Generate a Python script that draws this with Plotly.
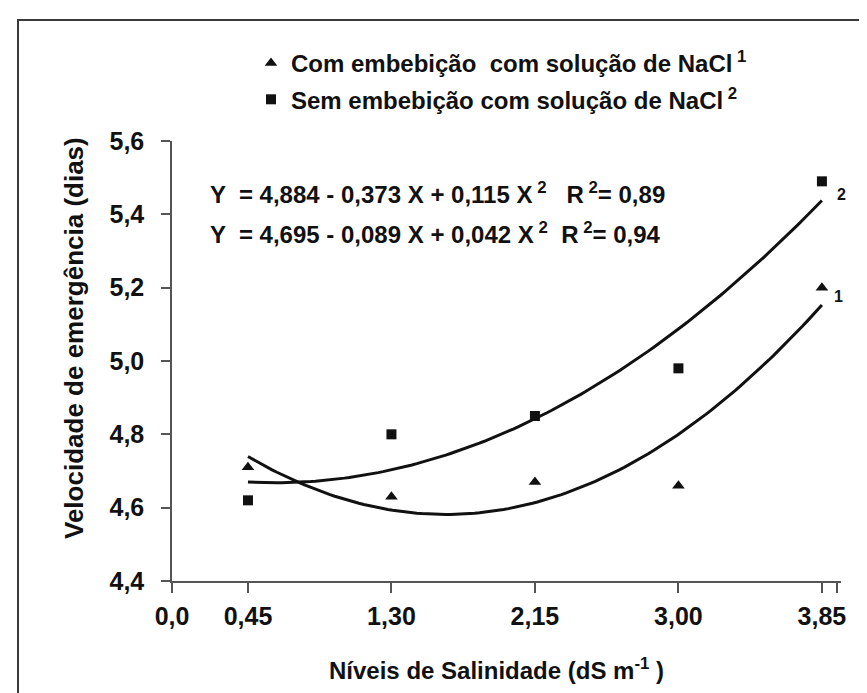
import numpy as np
import plotly.graph_objects as go

# ---- data ----
salinity = [0.45, 1.30, 2.15, 3.00, 3.85]
com_embebicao = [4.71, 4.63, 4.67, 4.66, 5.20]   # triangles (series 1)
sem_embebicao = [4.62, 4.80, 4.85, 4.98, 5.49]   # squares (series 2)

eq1_coef = [0.115, -0.373, 4.884]   # printed equation of series 1 (matches drawn curve)

x_tickvals = [0.0, 0.45, 1.30, 2.15, 3.00, 3.85, 3.94]
x_ticktext = ["0,0", "0,45", "1,30", "2,15", "3,00", "3,85", ""]
y_tickvals = [4.4, 4.6, 4.8, 5.0, 5.2, 5.4, 5.6]
y_ticktext = ["4,4", "4,6", "4,8", "5,0", "5,2", "5,4", "5,6"]

name1 = "Com embebição\u00a0 com solução de NaCl<sup> 1</sup>"
name2 = "Sem embebição com solução de NaCl<sup> 2</sup>"
eq1_text = "Y \u00a0= 4,884 - 0,373 X + 0,115 X<sup> 2</sup>\u00a0\u00a0 R<sup> 2</sup>= 0,89"
eq2_text = "Y \u00a0= 4,695 - 0,089 X + 0,042 X<sup> 2</sup>\u00a0 R<sup> 2</sup>= 0,94"

# ---- layout geometry (pixels) ----
W, H = 867, 693
L, R, T, B = 164, 833, 133, 573


def px(x):
    return (x - L) / (R - L)


def py(y):
    return (B - y) / (B - T)


FONT = "Liberation Sans, Arial, Helvetica, sans-serif"
INK = "#111111"

xs = np.array(salinity)
xf = np.linspace(min(salinity), max(salinity), 120)
curve1 = np.polyval(eq1_coef, xf)
curve2 = np.polyval(np.polyfit(xs, np.array(sem_embebicao), 2), xf)

fig = go.Figure()
fig.add_trace(go.Scatter(x=xf, y=curve1, mode="lines", line=dict(color=INK, width=3),
                         showlegend=False, hoverinfo="skip"))
fig.add_trace(go.Scatter(x=xf, y=curve2, mode="lines", line=dict(color=INK, width=3),
                         showlegend=False, hoverinfo="skip"))
fig.add_trace(go.Scatter(x=salinity, y=com_embebicao, mode="markers", name=name1,
                         legendgroup="a",
                         marker=dict(symbol="triangle-up", size=11, color=INK)))
fig.add_trace(go.Scatter(x=salinity, y=sem_embebicao, mode="markers", name=name2,
                         legendgroup="b",
                         marker=dict(symbol="square", size=10, color=INK)))

ann = []
for txt, yy in ((eq1_text, 185), (eq2_text, 225)):
    ann.append(dict(x=px(200), y=py(yy), xref="paper", yref="paper", text=txt,
                    showarrow=False, xanchor="left", yanchor="middle",
                    font=dict(family=FONT, size=24, color=INK, weight="bold")))
ann.append(dict(x=px(833), y=py(186), xref="paper", yref="paper", text="2",
                showarrow=False, xanchor="center", yanchor="middle",
                font=dict(family=FONT, size=16, color=INK, weight="bold")))
ann.append(dict(x=px(830), y=py(288), xref="paper", yref="paper", text="1",
                showarrow=False, xanchor="center", yanchor="middle",
                font=dict(family=FONT, size=16, color=INK, weight="bold")))
ann.append(dict(x=px(66), y=py(330), xref="paper", yref="paper",
                text="Velocidade de emergência (dias)", textangle=-90,
                showarrow=False, xanchor="center", yanchor="middle",
                font=dict(family=FONT, size=26, color=INK, weight="bold")))
ann.append(dict(x=px(488), y=py(661), xref="paper", yref="paper",
                text="Níveis de Salinidade (dS m<sup>-1</sup> )",
                showarrow=False, xanchor="center", yanchor="middle",
                font=dict(family=FONT, size=24, color=INK, weight="bold")))

fig.update_layout(
    width=W, height=H,
    margin=dict(l=L, r=W - R, t=T, b=H - B, pad=0),
    paper_bgcolor="white", plot_bgcolor="white",
    annotations=ann,
    showlegend=True,
    legend=dict(x=px(243), y=py(33), xanchor="left", yanchor="top",
                bgcolor="rgba(0,0,0,0)", tracegroupgap=2,
                font=dict(family=FONT, size=24, color=INK, weight="bold")),
    shapes=[dict(type="rect", xref="paper", yref="paper",
                 x0=px(10), x1=px(858), y0=py(705), y1=py(12),
                 line=dict(color="#3a3a3a", width=2))],
)
fig.update_xaxes(range=[0, 3.963], tickvals=x_tickvals, ticktext=x_ticktext,
                 showline=True, linecolor="#555555", linewidth=1.5,
                 ticks="outside", ticklen=10, tickwidth=1.5, tickcolor="#555555",
                 showgrid=False, zeroline=False, ticklabelstandoff=2,
                 tickfont=dict(family=FONT, size=25, color=INK, weight="bold"))
fig.update_yaxes(range=[4.4, 5.6], tickvals=y_tickvals, ticktext=y_ticktext,
                 showline=True, linecolor="#555555", linewidth=1.5,
                 ticks="outside", ticklen=9, tickwidth=1.5, tickcolor="#555555",
                 showgrid=False, zeroline=False, ticklabelstandoff=12,
                 tickfont=dict(family=FONT, size=25, color=INK, weight="bold"))

fig.write_html("out.html")
